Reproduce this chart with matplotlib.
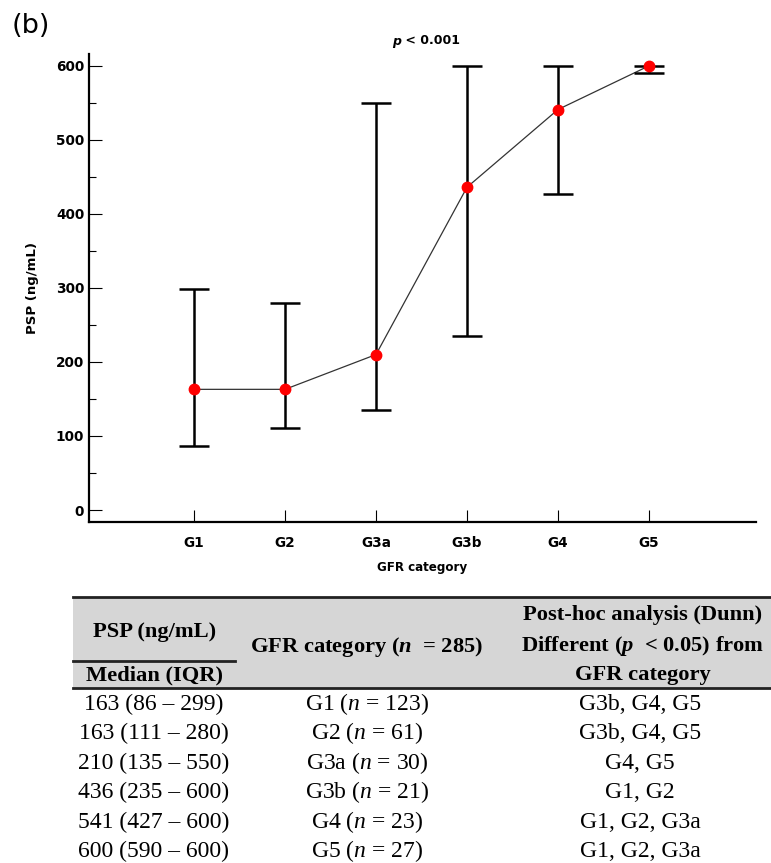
import matplotlib
matplotlib.use("Agg")
import matplotlib.pyplot as plt
from matplotlib.lines import Line2D
from matplotlib.patches import Rectangle
from matplotlib.ticker import MultipleLocator

plt.rcParams['mathtext.fontset'] = 'custom'
plt.rcParams['mathtext.rm'] = 'Liberation Serif'
plt.rcParams['mathtext.it'] = 'Liberation Serif:italic'
plt.rcParams['mathtext.bf'] = 'Liberation Serif:bold'
plt.rcParams['mathtext.bfit'] = 'Liberation Serif:italic:bold'

# ---- data ----
categories = ["G1", "G2", "G3a", "G3b", "G4", "G5"]
median = [163, 163, 210, 436, 541, 600]
q1 = [86, 111, 135, 235, 427, 590]
q3 = [299, 280, 550, 600, 600, 600]
n_counts = [123, 61, 30, 21, 23, 27]
n_total = 285
posthoc = ["G3b, G4, G5", "G3b, G4, G5", "G4, G5", "G1, G2", "G1, G2, G3a", "G1, G2, G3a"]
y_ticks = [0, 100, 200, 300, 400, 500, 600]

W, H = 771, 863
fig = plt.figure(figsize=(W / 100, H / 100), dpi=100)


def fx(x):
    return x / W


def fy(y):
    return 1 - y / H


ax = fig.add_axes([fx(89), fy(522), (756 - 89) / W, (522 - 54) / H])
xs = list(range(len(categories)))
lower = [m - a for m, a in zip(median, q1)]
upper = [b - m for m, b in zip(median, q3)]
ax.plot(xs, median, color="#333333", lw=0.9, zorder=2)
ax.errorbar(xs, median, yerr=[lower, upper], fmt="none", ecolor="black",
            elinewidth=1.8, capsize=10.6, capthick=1.8, zorder=3)
ax.plot(xs, median, "o", color="#ff0000", ms=7.5, mec="#ff0000", zorder=4)

ax.set_xlim(-1.154, 6.176)
ax.set_ylim(-16.2, 616)
ax.set_xticks(xs)
ax.set_xticklabels(categories)
ax.set_yticks(y_ticks)
ax.yaxis.set_minor_locator(MultipleLocator(50))
for s in ["top", "right"]:
    ax.spines[s].set_visible(False)
for s in ["left", "bottom"]:
    ax.spines[s].set_linewidth(1.6)
ax.tick_params(axis="both", which="major", direction="in", length=9, width=0.8,
               labelsize=9.8, pad=3.5)
ax.tick_params(axis="y", which="minor", direction="in", length=5, width=0.8)
ax.tick_params(axis="x", which="major", pad=10)
for lab in ax.get_xticklabels() + ax.get_yticklabels():
    lab.set_fontweight("bold")
    lab.set_family("DejaVu Sans")
ax.set_xlabel("GFR category", fontsize=8.6, fontweight="bold", labelpad=8)
ax.set_ylabel("PSP (ng/mL)", fontsize=9.5, fontweight="bold", labelpad=12)

# title p < 0.001
fig.text(fx(401), fy(41), "p", fontsize=9, fontweight="bold", fontstyle="italic",
         ha="right", va="center")
fig.text(fx(401), fy(41), " < 0.001", fontsize=9, fontweight="bold",
         ha="left", va="center")

fig.text(fx(12), fy(26), "(b)", fontsize=19.5, ha="left", va="center")

# ---- table ----
fig.add_artist(Rectangle((fx(73), fy(688)), (W - 73) / W, (688 - 597) / H,
                         transform=fig.transFigure, facecolor="#d6d6d6",
                         edgecolor="none", zorder=0))
for (x0, x1, y, lw) in [(73, W, 597, 2.0), (73, 235, 661, 2.0), (73, W, 688, 2.0)]:
    fig.add_artist(Line2D([fx(x0), fx(x1)], [fy(y), fy(y)], color="#222222",
                          lw=lw, transform=fig.transFigure))

hdr = dict(family="Liberation Serif", fontweight="bold", fontsize=16.2,
           ha="center", va="center")
fig.text(fx(155), fy(632), "PSP (ng/mL)", **hdr)
fig.text(fx(155), fy(675), "Median (IQR)", **hdr)
fig.text(fx(367), fy(647), r"GFR category ($\mathbfit{n}$  = %d)" % n_total, **hdr)
fig.text(fx(643), fy(615), "Post-hoc analysis (Dunn)", **hdr)
fig.text(fx(643), fy(646), r"Different ($\mathbfit{p}$  < 0.05) from", **hdr)
fig.text(fx(643), fy(675), "GFR category", **hdr)

body = dict(family="Liberation Serif", fontsize=17, ha="center", va="center")
for i in range(len(categories)):
    y = 704 + 29.5 * i
    fig.text(fx(154), fy(y), "%d (%d \u2013 %d)" % (median[i], q1[i], q3[i]), **body)
    fig.text(fx(367), fy(y), r"%s ($\mathit{n}$ = %d)" % (categories[i], n_counts[i]), **body)
    fig.text(fx(640), fy(y), posthoc[i], **body)

fig.savefig("out.png", dpi=100)
